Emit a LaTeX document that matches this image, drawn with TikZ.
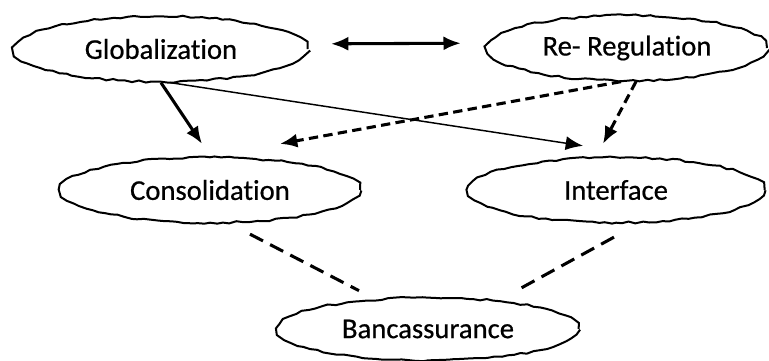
\documentclass[tikz,border=0pt]{standalone}
\usepackage{fontspec}
\setmainfont{Carlito}[Ligatures=CommonOff,FakeBold=0.6]
\usetikzlibrary{shapes.geometric,arrows.meta,decorations.pathmorphing}

\begin{document}
\pgfmathsetseed{11}
\begin{tikzpicture}[x=0.75pt,y=-0.75pt,
  blob/.style={ellipse,draw,line width=1.5pt,inner sep=0pt,
    decorate,decoration={random steps,segment length=5pt,amplitude=0.8pt},
    font=\fontsize{21.5}{26}\selectfont},
  >={Latex[length=13pt,width=10.5pt]},
  boldline/.style={line width=2.3pt},
  lightline/.style={line width=1.1pt},
  dashlink/.style={line width=2.3pt,dash pattern=on 7pt off 4pt},
  longdash/.style={line width=2.3pt,dash pattern=on 11pt off 6pt}]
\useasboundingbox (0,0) rectangle (769,361);

\node[blob,minimum width=220pt,minimum height=49pt] (Glob) at (161,49) {Globalization};
\node[blob,minimum width=210pt,minimum height=49pt] (Reg) at (627,48) {Re- Regulation};
\node[blob,minimum width=225pt,minimum height=49pt] (Cons) at (210,190) {Consolidation};
\node[blob,minimum width=223pt,minimum height=49pt] (Intf) at (616,190) {Interface};
\node[blob,minimum width=226pt,minimum height=47pt] (Banc) at (428,329) {Bancassurance};

\draw[<->,boldline,shorten <=18pt,shorten >=20pt] (Glob.2) -- (Reg.178);
\draw[->,boldline] (Glob.south) -- ([shift={(-8,-12.5)}]Cons.north);
\draw[->,lightline] (Glob.-75) -- ([shift={(-33,-10.5)}]Intf.north);
\draw[->,dashlink] (Reg.-100) -- ([shift={(70,-12.5)}]Cons.north);
\draw[->,dashlink] (Reg.-75) -- ([shift={(-13,-12.5)}]Intf.north);
\draw[longdash] ([shift={(40,10.5)}]Cons.south) -- ([shift={(-69,-6)}]Banc.north);
\draw[longdash] ([shift={(-2,13.5)}]Intf.south) -- ([shift={(92,-8)}]Banc.north);
\end{tikzpicture}
\end{document}
